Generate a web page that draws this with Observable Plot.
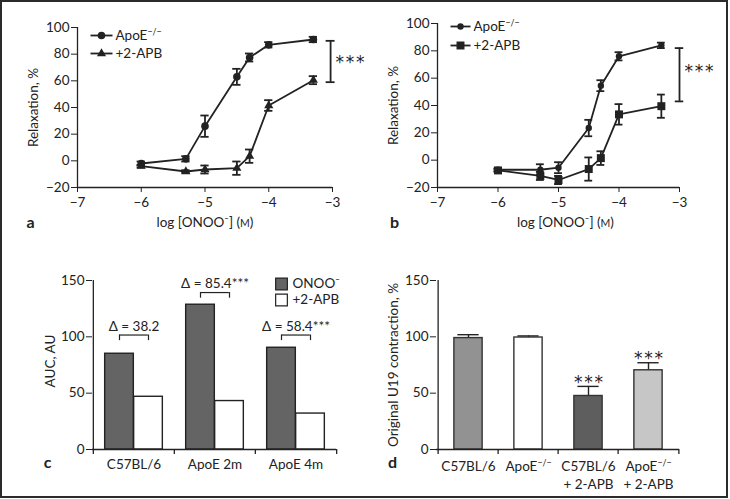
<!DOCTYPE html>
<html><head><meta charset="utf-8">
<script src="https://cdn.jsdelivr.net/npm/d3@7"></script>
<script src="https://cdn.jsdelivr.net/npm/@observablehq/plot@0.6"></script>
<style>
body{margin:0;background:#fff;}
#fig{position:relative;width:730px;height:499px;overflow:hidden;background:#fff;}
#fig svg{position:absolute;overflow:visible;}
#border{position:absolute;left:0;top:0;width:728px;height:498px;box-sizing:border-box;border:2px solid #2b2b2b;pointer-events:none;}
</style></head><body><div id="fig"><div id="border"></div></div>
<script>
// ---------- data ----------
const doses = [-6, -5.3, -5, -4.5, -4.3, -4, -3.3];
// panel a
const aApoE = [-2, 1.5, 26, 63, 77.5, 87, 91];
const aApoEErr = [1.5, 2, 8, 6, 3, 2, 2];
const aAPB = [-4, -8, -6.5, -5.5, 3.5, 41.5, 60.5];
const aAPBErr = [1, 1, 3, 5, 5, 4, 3];
// panel b
const bApoE = [-7, -7, -5.5, 23.5, 54.5, 76, 84];
const bApoEErr = [1, 4, 4, 6, 4, 3, 2];
const bAPB = [-7.5, -11.5, -14.5, -6.5, 1.5, 33.5, 39.5];
const bAPBErr = [1, 3, 3, 8.5, 5, 7.5, 8.5];
const curveTicksX = [-7, -6, -5, -4, -3];
const curveTicksY = [-20, 0, 20, 40, 60, 80, 100];
const curveSeries = ["ApoE⁻/⁻", "+2-APB"];
const sigA = {x: -3.03, y1: 59, y2: 90, labelY: 76, label: "***"};
const sigB = {x: -3.0, y1: 43, y2: 82, labelY: 67, label: "***"};
// panel c
const groupsC = ["C57BL/6", "ApoE 2m", "ApoE 4m"];
const seriesC = ["ONOO⁻", "+2-APB"];
const aucONOO = [85, 128.5, 90.3];
const aucAPB = [46.8, 43, 31.9];
const deltaLabels = ["Δ = 38.2", "Δ = 85.4***", "Δ = 58.4***"];
const bracketTop = [101.6, 139.3, 101.6];
const bracketLeg = 5;
const deltaLabelY = [109, 147, 109];
const ticksC = [0, 50, 100, 150];
// panel d
const groupsD = ["C57BL/6", "ApoE⁻/⁻", "C57BL/6\n+ 2-APB", "ApoE⁻/⁻\n+ 2-APB"];
const contraction = [98.9, 99.4, 47.5, 70.3];
const contractionErr = [3, 1.4, 8.5, 6.7];
const sigD = ["", "", "***", "***"];
const fillsD = ["#929292", "#ffffff", "#5e5e5e", "#c6c6c6"];

// ---------- helpers ----------
const FONT = "Lato, 'Open Sans', sans-serif";
const STAR_FONT = "'DejaVu Sans', sans-serif";
const INK = "#222";
const DARK = "#646464";
const fmt = d => d < 0 ? "\u2212" + Math.abs(d) : String(d);
const spaced = s => s.split("").join("\u200a");
const lineSymbol = half => ({draw(ctx) { ctx.moveTo(-half, 0); ctx.lineTo(half, 0); }});
const NS = "http://www.w3.org/2000/svg";
const baseStyle = {fontFamily: FONT, fontSize: "13.5px", color: INK, background: "transparent", overflow: "visible"};

function fixText(svg) {
  svg.querySelectorAll("text, tspan").forEach(el => {
    Array.from(el.childNodes).forEach(node => {
      if (node.nodeType !== 3) return;
      const v = node.nodeValue;
      if (v.includes("⁻/⁻")) {
        const parts = v.split("⁻/⁻");
        const frag = document.createDocumentFragment();
        frag.appendChild(document.createTextNode(parts[0]));
        const s = document.createElementNS(NS, "tspan");
        s.setAttribute("font-size", "0.65em");
        s.setAttribute("baseline-shift", "5px");
        s.textContent = "\u2212/\u2212";
        frag.appendChild(s);
        if (parts[1]) frag.appendChild(document.createTextNode(parts[1]));
        el.replaceChild(frag, node);
      } else if (v.includes("ᴍ")) {
        const parts = v.split("ᴍ");
        const frag = document.createDocumentFragment();
        frag.appendChild(document.createTextNode(parts[0]));
        const s = document.createElementNS(NS, "tspan");
        s.setAttribute("font-size", "0.78em");
        s.textContent = "M";
        frag.appendChild(s);
        frag.appendChild(document.createTextNode(parts[1]));
        el.replaceChild(frag, node);
      }
    });
  });
}

function curvePanel(o) {
  const rows = doses.flatMap((x, i) => [
    {x, y: o.apoe[i], e: o.apoeErr[i], s: 0},
    {x, y: o.apb[i], e: o.apbErr[i], s: 1}
  ]);
  const A = rows.filter(d => d.s === 0), B = rows.filter(d => d.s === 1);
  const cap = 0.065, L = o.legend;
  const stroke = {stroke: INK, strokeWidth: 1.8};
  const mid = {textAnchor: "middle", lineAnchor: "middle"};
  return Plot.plot({
    width: o.width, height: 250,
    marginLeft: 77, marginRight: o.marginRight, marginTop: o.marginTop, marginBottom: 63,
    style: baseStyle,
    x: {domain: [-7, -3], ticks: curveTicksX, tickFormat: fmt, tickSize: 5, tickPadding: 5, label: null},
    y: {domain: [-20, 100], ticks: curveTicksY, tickFormat: fmt, tickSize: 6, tickPadding: 2, label: null},
    marks: [
      Plot.ruleX([-7], {stroke: INK, strokeWidth: 1.3}),
      Plot.ruleY([-20], {stroke: INK, strokeWidth: 1.3}),
      Plot.line(A, {x: "x", y: "y", ...stroke}),
      Plot.line(B, {x: "x", y: "y", ...stroke}),
      Plot.ruleX(rows, {x: "x", y1: d => d.y - d.e, y2: d => d.y + d.e, ...stroke}),
      Plot.ruleY(rows, {x1: d => d.x - cap, x2: d => d.x + cap, y: d => d.y + d.e, ...stroke}),
      Plot.ruleY(rows, {x1: d => d.x - cap, x2: d => d.x + cap, y: d => d.y - d.e, ...stroke}),
      Plot.dot(A, {x: "x", y: "y", r: o.apoeR, symbol: "circle", fill: INK}),
      Plot.dot(B, {x: "x", y: "y", r: o.apbR, symbol: o.apbSymbol, fill: INK}),
      // significance bracket
      Plot.ruleX([o.sig], {x: "x", y1: "y1", y2: "y2", ...stroke}),
      Plot.ruleY([o.sig], {x1: d => d.x - 0.07, x2: d => d.x + 0.07, y: "y1", ...stroke}),
      Plot.ruleY([o.sig], {x1: d => d.x - 0.07, x2: d => d.x + 0.07, y: "y2", ...stroke}),
      Plot.text([o.sig], {x: "x", y: "labelY", text: d => spaced(d.label), textAnchor: "start", lineAnchor: "middle", dx: 5, dy: 3, fontSize: 17, fontFamily: STAR_FONT, fill: INK}),
      // legend
      Plot.dot([0], {frameAnchor: "top-left", dx: L.lineX, dy: L.y0, symbol: lineSymbol(L.half), fill: "none", ...stroke}),
      Plot.dot([0], {frameAnchor: "top-left", dx: L.lineX, dy: L.y0, r: o.apoeR, symbol: "circle", fill: INK}),
      Plot.dot([0], {frameAnchor: "top-left", dx: L.lineX, dy: L.y1, symbol: lineSymbol(L.half), fill: "none", ...stroke}),
      Plot.dot([0], {frameAnchor: "top-left", dx: L.lineX, dy: L.y1, r: o.apbR, symbol: o.apbSymbol, fill: INK}),
      Plot.text([curveSeries[0]], {frameAnchor: "top-left", dx: L.textX, dy: L.y0, text: d => d, textAnchor: "start", lineAnchor: "middle", fill: INK}),
      Plot.text([curveSeries[1]], {frameAnchor: "top-left", dx: L.textX, dy: L.y1, text: d => d, textAnchor: "start", lineAnchor: "middle", fill: INK}),
      // titles
      Plot.text(["log [ONOO⁻] (ᴍ)"], {frameAnchor: "bottom", dx: o.titleDx, dy: 35, text: d => d, ...mid, fill: INK}),
      Plot.text(["Relaxation, %"], {frameAnchor: "left", dx: -44, rotate: -90, text: d => d, ...mid, fill: INK}),
      Plot.text([o.letter], {frameAnchor: "bottom-left", dx: o.letterDx, dy: 35, text: d => d, ...mid, fontWeight: "bold", fontSize: 16, fill: INK})
    ]
  });
}

function aucPanel() {
  const W = 365, ML = 92, MR = 29;
  const bw = (W - ML - MR) / groupsC.length;
  const barW = 29;
  const outer = bw / 2 - barW;
  const rows = groupsC.map((g, i) => ({g, onoo: aucONOO[i], apb: aucAPB[i], delta: deltaLabels[i], top: bracketTop[i], ly: deltaLabelY[i]}));
  const ax = {stroke: INK, strokeWidth: 1.3};
  const br = {stroke: INK, strokeWidth: 1.2};
  const mid = {textAnchor: "middle", lineAnchor: "middle"};
  return Plot.plot({
    width: W, height: 249, marginLeft: ML, marginRight: MR, marginTop: 30, marginBottom: 50,
    style: baseStyle,
    x: {domain: groupsC, padding: 0, axis: null},
    y: {domain: [0, 150], ticks: ticksC, tickSize: 6, tickPadding: 2, label: null},
    marks: [
      Plot.barY(rows, {x: "g", y: "onoo", fill: DARK, stroke: INK, strokeWidth: 1.4, insetLeft: outer, insetRight: bw / 2}),
      Plot.barY(rows, {x: "g", y: "apb", fill: "#fff", stroke: INK, strokeWidth: 1.4, insetLeft: bw / 2, insetRight: outer}),
      Plot.ruleY([0], ax),
      Plot.ruleX([groupsC[0]], {x: d => d, dx: -bw / 2, ...ax}),
      Plot.ruleX(groupsC, {x: d => d, y1: 0, y2: -4.5, dx: -bw / 2, ...ax}),
      Plot.ruleX([groupsC[groupsC.length - 1]], {x: d => d, y1: 0, y2: -4.5, dx: bw / 2, ...ax}),
      Plot.text(groupsC, {x: d => d, text: d => d, frameAnchor: "bottom", textAnchor: "middle", lineAnchor: "top", dy: 9.5, fill: INK}),
      // brackets
      Plot.tickY(rows, {x: "g", y: "top", insetLeft: bw / 2 - barW / 2, insetRight: bw / 2 - barW / 2, ...br}),
      Plot.ruleX(rows, {x: "g", y1: d => d.top - bracketLeg, y2: "top", dx: -barW / 2, ...br}),
      Plot.ruleX(rows, {x: "g", y1: d => d.top - bracketLeg, y2: "top", dx: barW / 2, ...br}),
      Plot.text(rows, {x: "g", y: "ly", text: "delta", ...mid, fill: INK}),
      // legend
      Plot.dot([0], {frameAnchor: "top-left", dx: 189, dy: 3.5, symbol: "square", r: 6.6, fill: DARK, stroke: INK, strokeWidth: 1.2}),
      Plot.dot([0], {frameAnchor: "top-left", dx: 189, dy: 19.5, symbol: "square", r: 6.6, fill: "#fff", stroke: INK, strokeWidth: 1.2}),
      Plot.text([seriesC[0]], {frameAnchor: "top-left", dx: 200, dy: 3.5, text: d => d, textAnchor: "start", lineAnchor: "middle", fill: INK}),
      Plot.text([seriesC[1]], {frameAnchor: "top-left", dx: 200, dy: 19.5, text: d => d, textAnchor: "start", lineAnchor: "middle", fill: INK}),
      // titles
      Plot.text(["AUC, AU"], {frameAnchor: "left", dx: -42, dy: -4, rotate: -90, text: d => d, ...mid, fill: INK}),
      Plot.text(["c"], {frameAnchor: "bottom-left", dx: -45, dy: 13, text: d => d, ...mid, fontWeight: "bold", fontSize: 16, fill: INK})
    ]
  });
}

function contractionPanel() {
  const W = 370, ML = 76, MR = 51;
  const bw = (W - ML - MR) / groupsD.length;
  const barW = 29, capW = 22;
  const rows = groupsD.map((g, i) => ({g, v: contraction[i], e: contractionErr[i], sig: sigD[i], fill: fillsD[i]}));
  const ax = {stroke: INK, strokeWidth: 1.3};
  const mid = {textAnchor: "middle", lineAnchor: "middle"};
  return Plot.plot({
    width: W, height: 249, marginLeft: ML, marginRight: MR, marginTop: 30, marginBottom: 50,
    style: baseStyle,
    x: {domain: groupsD, padding: 0, axis: null},
    y: {domain: [0, 150], ticks: ticksC, tickSize: 6, tickPadding: 2, label: null},
    marks: [
      Plot.ruleX(rows, {x: "g", y1: "v", y2: d => d.v + d.e, stroke: INK, strokeWidth: 1.4}),
      Plot.tickY(rows, {x: "g", y: d => d.v + d.e, insetLeft: (bw - capW) / 2, insetRight: (bw - capW) / 2, stroke: INK, strokeWidth: 1.4}),
      Plot.barY(rows, {x: "g", y: "v", fill: d => d.fill, stroke: "#333", strokeWidth: 1.4, insetLeft: (bw - barW) / 2, insetRight: (bw - barW) / 2}),
      Plot.text(rows, {x: "g", y: d => d.v + d.e, text: d => spaced(d.sig), ...mid, dy: -4, fontSize: 17, fontFamily: STAR_FONT, fill: INK}),
      Plot.ruleY([0], ax),
      Plot.ruleX([groupsD[0]], {x: d => d, dx: -bw / 2, ...ax}),
      Plot.ruleX(groupsD, {x: d => d, y1: 0, y2: -4.5, dx: -bw / 2, ...ax}),
      Plot.ruleX([groupsD[groupsD.length - 1]], {x: d => d, y1: 0, y2: -4.5, dx: bw / 2, ...ax}),
      Plot.text(groupsD, {x: d => d, text: d => d, frameAnchor: "bottom", textAnchor: "middle", lineAnchor: "top", dy: 9.5, lineHeight: 1.3, fill: INK}),
      Plot.text(["Original U19 contraction, %"], {frameAnchor: "left", dx: -43, rotate: -90, text: d => d, ...mid, fill: INK}),
      Plot.text(["d"], {frameAnchor: "bottom-left", dx: -44, dy: 13, text: d => d, ...mid, fontWeight: "bold", fontSize: 16, fill: INK})
    ]
  });
}

const fig = document.getElementById("fig");
function place(svg, left, top) {
  fixText(svg);
  svg.style.left = left + "px";
  svg.style.top = top + "px";
  fig.insertBefore(svg, document.getElementById("border"));
}

place(curvePanel({
  width: 365, marginRight: 33, marginTop: 27,
  apoe: aApoE, apoeErr: aApoEErr, apb: aAPB, apbErr: aAPBErr,
  apoeR: 3.8, apbR: 3.4, apbSymbol: "triangle", sig: sigA,
  legend: {lineX: 24, half: 11, y0: 8, y1: 26, textX: 38},
  titleDx: 0, letter: "a", letterDx: -47
}), 0, 0);

place(curvePanel({
  width: 370, marginRight: 51, marginTop: 23,
  apoe: bApoE, apoeErr: bApoEErr, apb: bAPB, apbErr: bAPBErr,
  apoeR: 3.2, apbR: 4.5, apbSymbol: "square", sig: sigB,
  legend: {lineX: 23, half: 10, y0: 3, y1: 22, textX: 36},
  titleDx: 7, letter: "b", letterDx: -43
}), 360, 0);

place(aucPanel(), 0, 250);
place(contractionPanel(), 360, 250);
</script>
</body></html>
